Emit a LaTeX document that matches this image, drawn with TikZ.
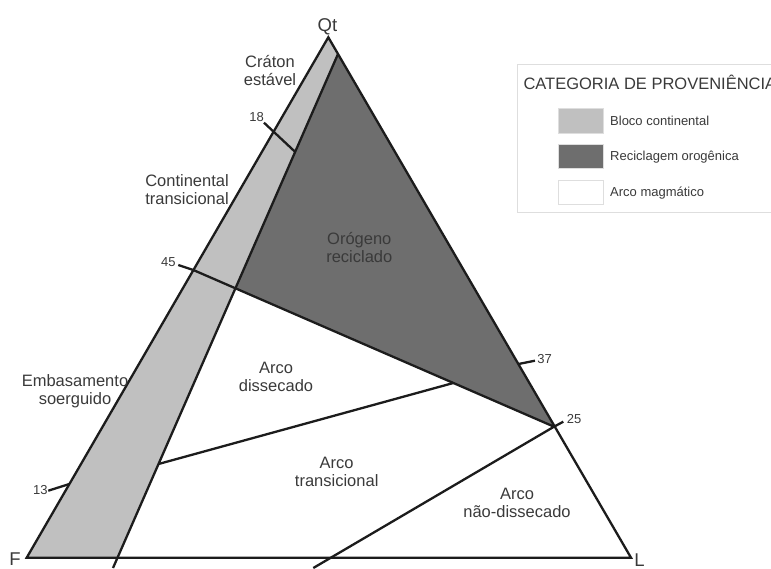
\documentclass[tikz,border=0pt]{standalone}
\usepackage{fontspec}
\setmainfont{Liberation Sans}
\definecolor{bandlight}{RGB}{192,192,192}
\definecolor{banddark}{RGB}{110,110,110}
\definecolor{ink}{RGB}{28,28,28}
\definecolor{labelgray}{RGB}{58,58,58}
\definecolor{framegray}{RGB}{222,222,222}
\begin{document}
\begin{tikzpicture}[x=1pt,y=-1pt,
  boundary/.style={draw=ink,line width=2.3pt,line join=miter},
  region/.style={text=labelgray,align=center,inner sep=0pt,
    font=\fontsize{16.5}{18}\selectfont},
  vertex/.style={text=labelgray,inner sep=0pt,anchor=base,
    font=\fontsize{18.5}{20}\selectfont},
  tickval/.style={text=labelgray,inner sep=0pt,
    font=\fontsize{13}{15}\selectfont},
  swatch/.style={draw=framegray,line width=1pt},
  legendtext/.style={text=labelgray,inner sep=0pt,anchor=west,
    font=\fontsize{13}{15}\selectfont}]
\useasboundingbox (0,0) rectangle (771,569);

% triangle corners and dividing points
\coordinate (F) at (26.7,557.7);
\coordinate (L) at (631,557.7);
\coordinate (Qt) at (328.3,37.3);
\coordinate (A) at (338,54);
\coordinate (B) at (117.5,557.7);
\coordinate (Bx) at (113,568);
\coordinate (P45) at (193.3,270);
\coordinate (T45) at (178.3,265);
\coordinate (P25) at (554,426.7);
\coordinate (T25) at (563.3,421.7);
\coordinate (E) at (313.3,568);
\coordinate (T18) at (264,122.7);
\coordinate (P18) at (273.6,131.7);
\coordinate (T37) at (535,360.7);
\coordinate (P37) at (518.5,364);
\coordinate (T13) at (48.3,490.7);
\coordinate (P13) at (69.4,484);
\coordinate (D1) at (158.5,464);
\coordinate (D2) at (453.3,383);
\coordinate (X45) at (intersection of A--B and P45--P25);
\coordinate (X18) at (intersection of A--B and T18--P18);

% provenance fields
\fill[bandlight] (F) -- (Qt) -- (A) -- (B) -- cycle;
\fill[banddark] (A) -- (P25) -- (X45) -- cycle;

% field boundaries
\draw[boundary] (F) -- (Qt) -- (L) -- cycle;
\draw[boundary] (A) -- (Bx);
\draw[boundary] (T45) -- (P45) -- (P25);
\draw[boundary] (T18) -- (X18);
\draw[boundary] (D1) -- (D2);
\draw[boundary] (T25) -- (P25) -- (E);
\draw[boundary] (T37) -- (P37);
\draw[boundary] (T13) -- (P13);

% poles
\node[vertex] (lQt) at (327.5,32) {Qt};
\node[vertex] (lF) at (15,565) {F};
\node[vertex] (lL) at (639.5,566.7) {L};

% boundary values
\node[tickval] (v18) at (256.7,117.3) {18};
\node[tickval] (v45) at (168.3,261.7) {45};
\node[tickval] (v37) at (544.5,359.3) {37};
\node[tickval] (v25) at (574,419.3) {25};
\node[tickval] (v13) at (40.3,490.5) {13};

% field names
\node[region] (craton) at (270,71) {Cráton\\estável};
\node[region] (contrans) at (187,190) {Continental\\transicional};
\node[region] (embas) at (75,391) {Embasamento\\soerguido};
\node[region] (orogeno) at (359.3,248) {Orógeno\\reciclado};
\node[region] (arcodis) at (276,377.2) {Arco\\dissecado};
\node[region] (arcotrans) at (336.7,472.2) {Arco\\transicional};
\node[region] (arconao) at (517,503.3) {Arco\\não-dissecado};

% legend
\draw[framegray,line width=1pt,fill=white] (517.3,65) rectangle (800,212.3);
\node[text=labelgray,inner sep=0pt,anchor=base west,
  font=\fontsize{16.5}{18}\selectfont] (ltitle) at (523.3,89.3)
  {CATEGORIA DE PROVENIÊNCIA};
\draw[swatch,fill=bandlight] (558.3,109) rectangle (603.3,133.3);
\draw[swatch,fill=banddark] (558.3,145) rectangle (603.3,169);
\draw[swatch,fill=white] (558.3,180.7) rectangle (603.3,205);
\node[legendtext] (lg1) at (610,121.2) {Bloco continental};
\node[legendtext] (lg2) at (610,157) {Reciclagem orogênica};
\node[legendtext] (lg3) at (610,192.8) {Arco magmático};
\end{tikzpicture}
\end{document}
